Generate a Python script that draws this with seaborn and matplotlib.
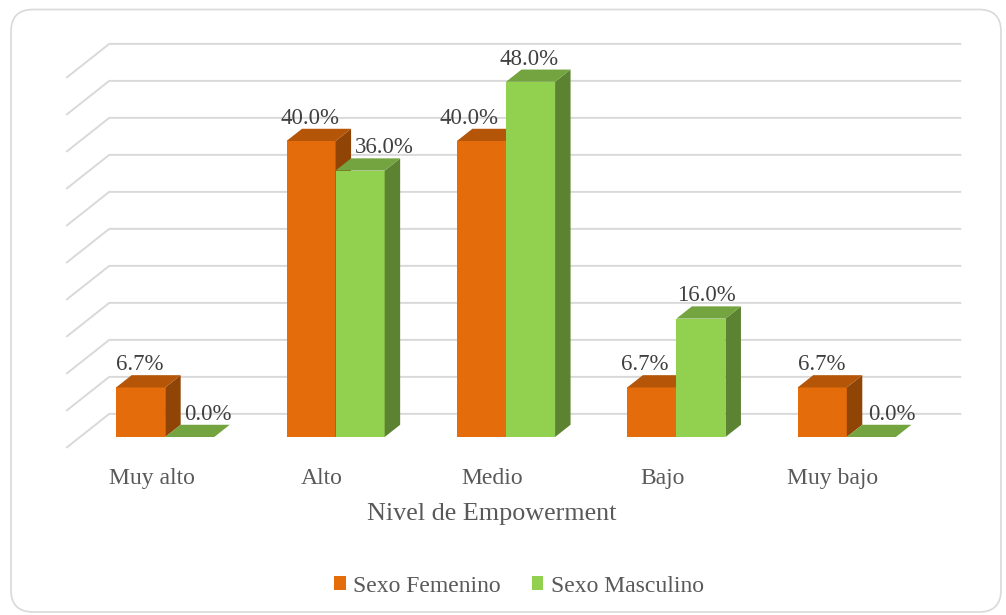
import numpy as np
import pandas as pd
import matplotlib
matplotlib.use("Agg")
import matplotlib.pyplot as plt
import seaborn as sns
from matplotlib.patches import Polygon, FancyBboxPatch
from matplotlib.colors import to_rgb

# ---- data -------------------------------------------------------------
niveles = ["Muy alto", "Alto", "Medio", "Bajo", "Muy bajo"]
series = ["Sexo Femenino", "Sexo Masculino"]
femenino = [6.7, 40.0, 40.0, 6.7, 6.7]
masculino = [0.0, 36.0, 48.0, 16.0, 0.0]
grid_ticks = list(range(0, 55, 5))

df = pd.DataFrame({
    "Nivel": niveles * 2,
    "Sexo": [series[0]] * len(niveles) + [series[1]] * len(niveles),
    "Porcentaje": femenino + masculino,
})

# ---- style ------------------------------------------------------------
palette = {"Sexo Femenino": "#E46C0A", "Sexo Masculino": "#92D050"}
grid_color = "#D9D9D9"
text_color = "#595959"
label_color = "#404040"

# horizontal nudges (px) for the value labels
label_nudge = {
    "Sexo Femenino": [-1, -1, -12, -7, -1],
    "Sexo Masculino": [18, 24, -1, 5, 21],
}

sns.set_theme(style="white")
plt.rcParams["font.family"] = ["Liberation Serif", "DejaVu Serif"]

W, H, DPI = 1006, 615, 100
fig = plt.figure(figsize=(W / DPI, H / DPI), dpi=DPI)

# axes = front plane of the bars
x0_px, x1_px = 80, 932
y0_px = 437
px_per_pct = 7.4
ymax = 50
ax = fig.add_axes([x0_px / W, (H - y0_px) / H,
                   (x1_px - x0_px) / W, ymax * px_per_pct / H])

sns.barplot(data=df, x="Nivel", y="Porcentaje", hue="Sexo",
            order=niveles, hue_order=series, palette=palette,
            saturation=1, width=0.576, errorbar=None, linewidth=0,
            ax=ax)
ax.set_xlim(-0.5, len(niveles) - 0.5)
ax.set_ylim(0, ymax)

px_per_cat = (x1_px - x0_px) / len(niveles)
# full floor depth vector in data units
depth_x = 43 / px_per_cat
depth_y = 34 / px_per_pct
front_frac, bar_frac = 0.32, 0.36
back_frac = 1 - front_frac

# back wall + left wall gridlines
xl_front = -0.5 - front_frac * depth_x
xl_back = -0.5 + back_frac * depth_x
xr_back = len(niveles) - 0.5 + back_frac * depth_x
for v in grid_ticks:
    ax.plot([xl_front, xl_back, xr_back],
            [v - front_frac * depth_y, v + back_frac * depth_y, v + back_frac * depth_y],
            color=grid_color, lw=1.4, clip_on=False, zorder=0.5,
            solid_capstyle="butt")


def shade(c, f):
    r, g, b = to_rgb(c)
    return (r * f, g * f, b * f)


bdx, bdy = bar_frac * depth_x, bar_frac * depth_y
for k, (cont, name) in enumerate(zip(ax.containers, series)):
    base = palette[name]
    vals = femenino if name == series[0] else masculino
    z = 2 + k
    for i, (patch, val) in enumerate(zip(cont, vals)):
        patch.set_zorder(z)
        x = patch.get_x()
        w = patch.get_width()
        h = patch.get_height()
        side = Polygon([(x + w, 0), (x + w, h), (x + w + bdx, h + bdy), (x + w + bdx, bdy)],
                       closed=True, facecolor=shade(base, 0.63), edgecolor="none",
                       zorder=z + 0.1, clip_on=False)
        top = Polygon([(x, h), (x + w, h), (x + w + bdx, h + bdy), (x + bdx, h + bdy)],
                      closed=True, facecolor=shade(base, 0.79), edgecolor="none",
                      zorder=z + 0.2, clip_on=False)
        ax.add_patch(side)
        ax.add_patch(top)
        ax.annotate(f"{val:.1f}%", xy=(x + w / 2, h + bdy),
                    xytext=(label_nudge[name][i] * 0.72, 5 * 0.72),
                    textcoords="offset points", ha="center", va="baseline",
                    fontsize=16.5, color=label_color, zorder=6,
                    annotation_clip=False)

# category labels centred on the front edge of the floor
ax.set_xticks([i - front_frac * depth_x for i in range(len(niveles))])
ax.set_xticklabels(niveles, fontsize=17, color=text_color)
ax.tick_params(axis="x", length=0, pad=22)
ax.set_yticks([])
ax.set_ylabel("")
ax.set_xlabel("Nivel de Empowerment", fontsize=18.8, color=text_color)
ax.xaxis.set_label_coords((492 - x0_px) / (x1_px - x0_px), (y0_px - 503) / (ymax * px_per_pct))
for s in ax.spines.values():
    s.set_visible(False)
ax.patch.set_alpha(0)

sns.move_legend(ax, "center", bbox_to_anchor=((519 - x0_px) / (x1_px - x0_px),
                                              (y0_px - 586) / (ymax * px_per_pct)),
                ncol=2, frameon=False, title=None, fontsize=17,
                handlelength=0.5, handleheight=0.5, handletextpad=0.3,
                columnspacing=1.3)
for t in ax.get_legend().get_texts():
    t.set_color(text_color)

# rounded chart border
border = FancyBboxPatch((0.11, 0.03), 9.90, 6.025,
                        boxstyle="round,pad=0,rounding_size=0.22",
                        transform=fig.dpi_scale_trans, facecolor="none",
                        edgecolor=grid_color, lw=1.2, zorder=0)
fig.patches.append(border)

fig.savefig("out.png", dpi=DPI)
